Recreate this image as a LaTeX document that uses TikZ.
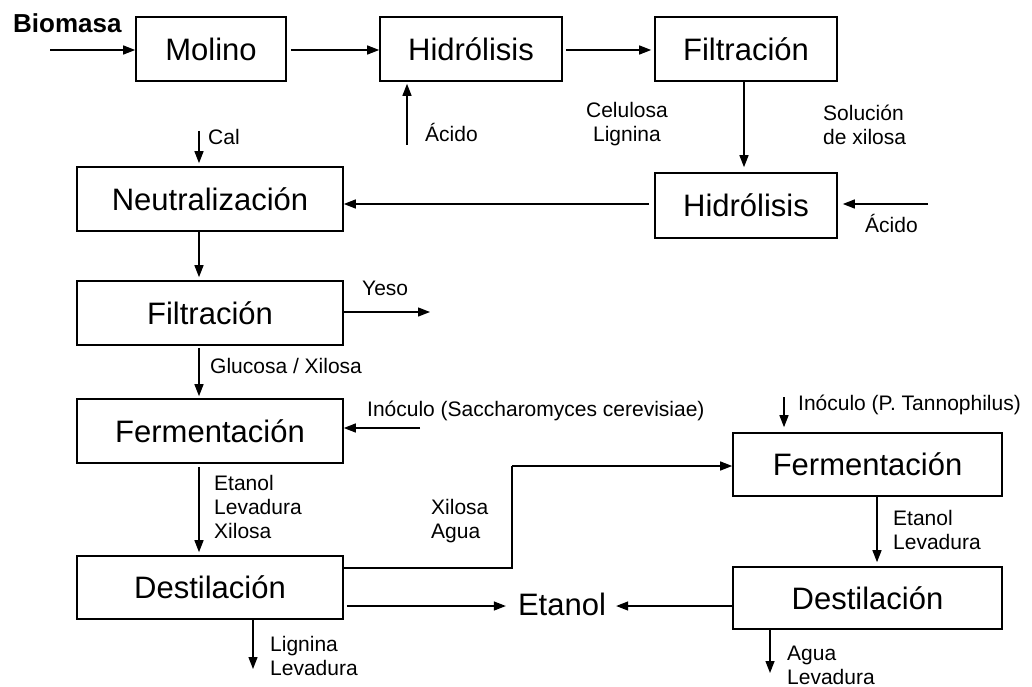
\documentclass[tikz,border=0pt]{standalone}
\usepackage{fontspec}
\setmainfont{Liberation Sans}
\usetikzlibrary{arrows.meta}
\tikzset{
  box/.style={draw, line width=1.6pt, minimum height=64pt, inner sep=0pt, font=\fontsize{31}{36}\selectfont},
  wbox/.style={box, minimum width=266pt},
  nbox/.style={box, minimum width=182pt},
  lbl/.style={font=\fontsize{21}{24}\selectfont, inner sep=0pt, align=left, anchor=west},
  arr/.style={line width=1.3pt, -{Triangle[length=12pt,width=9pt]}},
  ln/.style={line width=1.3pt}
}
\begin{document}
\begin{tikzpicture}[x=1pt,y=-1pt]
\useasboundingbox[fill=white] (0,0) rectangle (1032,687);
% boxes
\node[box, minimum width=150pt] (molino) at (211,49) {Molino};
\node[nbox] (hid1) at (471,49) {Hidrólisis};
\node[nbox] (fil1) at (746,49) {Filtración};
\node[nbox, minimum height=65pt] (hid2) at (746,205.5) {Hidrólisis};
\node[wbox] (neut) at (210,199) {Neutralización};
\node[wbox] (fil2) at (210,313) {Filtración};
\node[wbox] (ferm1) at (210,431) {Fermentación};
\node[wbox, minimum height=63pt] (dest1) at (210,587.5) {Destilación};
\node[wbox, minimum width=269pt, minimum height=63pt] (ferm2) at (867.5,464.5) {Fermentación};
\node[wbox, minimum width=269pt, minimum height=62pt] (dest2) at (867.5,598) {Destilación};
\node[font=\fontsize{31}{36}\selectfont, inner sep=0pt] (etanol) at (562,604) {Etanol};
% labels
\node[lbl, font=\fontsize{26}{28}\selectfont\bfseries] (biomasa) at (13,23) {Biomasa};
\node[lbl] (lacido1) at (425,132) {Ácido};
\node[lbl] (lcal) at (208,137) {Cal};
\node[lbl, align=center, anchor=center] (lcel) at (627,124.5) {Celulosa\\Lignina};
\node[lbl] (lsol) at (823,124.5) {Solución\\de xilosa};
\node[lbl] (lacido2) at (865,223) {Ácido};
\node[lbl] (lyeso) at (362,288) {Yeso};
\node[lbl] (lglu) at (210,366) {Glucosa / Xilosa};
\node[lbl] (linoc1) at (367,411) {Inóculo (Saccharomyces cerevisiae)};
\node[lbl] (lelx) at (214,507) {Etanol\\Levadura\\Xilosa};
\node[lbl] (lxa) at (431,521.5) {Xilosa\\Agua};
\node[lbl] (lel) at (893,530) {Etanol\\Levadura};
\node[lbl] (linoc2) at (798,405) {Inóculo (P. Tannophilus)};
\node[lbl] (lal) at (787,665) {Agua\\Levadura};
\node[lbl] (lll) at (270,655.5) {Lignina\\Levadura};
% free ends
\coordinate (bio) at (50,50);
\coordinate (acido1) at (407,145);
\coordinate (acido2) at (928,204);
\coordinate (cal) at (199,131);
\coordinate (yeso) at (430,312);
\coordinate (inoc1) at (420,428);
\coordinate (inoc2) at (784,397);
\coordinate (xa1) at (512,568);
\coordinate (xa2) at (512,466);
\coordinate (agua) at (770,673);
\coordinate (lig) at (253,669);
% connectors
\draw[arr] (bio) -- (bio -| molino.west);
\draw[arr, shorten <=4pt] (molino.east |- bio) -- (bio -| hid1.west);
\draw[arr, shorten <=3pt, shorten >=3pt] (hid1.east |- bio) -- (bio -| fil1.west);
\draw[arr, shorten >=2pt] (acido1) -- (acido1 |- hid1.south);
\draw[arr, shorten >=5pt] (fil1.south -| 744,0) -- (hid2.north -| 744,0);
\draw[arr, shorten <=5pt] (hid2.west |- acido2) -- (neut.east |- acido2);
\draw[arr, shorten >=5pt] (acido2) -- (hid2.east |- acido2);
\draw[arr, shorten >=3pt] (cal) -- (cal |- neut.north);
\draw[arr, shorten >=3pt] (cal |- neut.south) -- (cal |- fil2.north);
\draw[arr] (fil2.east |- yeso) -- (yeso);
\draw[arr, shorten <=2pt, shorten >=2pt] (cal |- fil2.south) -- (cal |- ferm1.north);
\draw[arr] (inoc1) -- (ferm1.east |- inoc1);
\draw[arr, shorten <=3pt, shorten >=3pt] (cal |- ferm1.south) -- (cal |- dest1.north);
\draw[ln] (dest1.east |- xa1) -- (xa1) -- (xa2);
\draw[arr] (xa2) -- (ferm2.west |- xa2);
\draw[arr, shorten <=3pt, shorten >=12pt] (dest1.east |- 0,606) -- (etanol.west |- 0,606);
\draw[arr, shorten >=10pt] (dest2.west |- 0,606) -- (etanol.east |- 0,606);
\draw[arr, shorten >=5pt] (inoc2) -- (inoc2 |- ferm2.north);
\draw[arr, shorten >=4pt] (ferm2.south -| 877,0) -- (dest2.north -| 877,0);
\draw[arr] (agua |- dest2.south) -- (agua);
\draw[arr] (lig |- dest1.south) -- (lig);
\end{tikzpicture}
\end{document}
